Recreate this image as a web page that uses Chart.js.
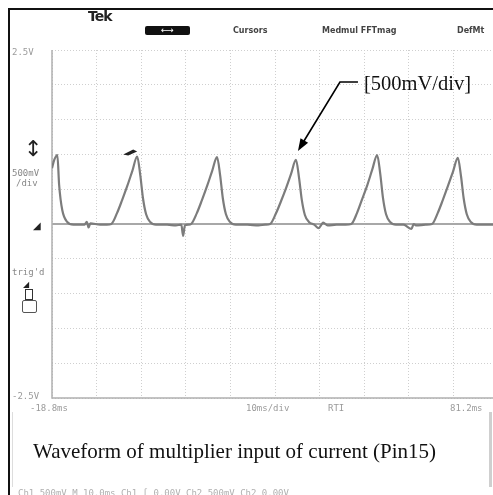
<!DOCTYPE html>
<html>
<head>
<meta charset="utf-8">
<script src="https://cdn.jsdelivr.net/npm/chart.js@4.4.0/dist/chart.umd.min.js"></script>
<style>
    body { margin: 0; width: 493px; height: 495px; overflow: hidden; background: #fff; position: relative; }
    #scope { position: absolute; left: 0; top: 0; }
    .frame-top { position: absolute; left: 8px; top: 8px; width: 485px; height: 2px; background: #111; }
    .frame-left { position: absolute; left: 8px; top: 8px; width: 2px; height: 487px; background: #111; }
    .lbl { position: absolute; font-family: "DejaVu Sans Mono", monospace; font-size: 9px; color: #9a9a9a; filter: blur(0.35px); white-space: nowrap; }
    .menu { position: absolute; font-family: "DejaVu Sans", sans-serif; font-weight: bold; font-size: 8px; color: #444; filter: blur(0.45px); white-space: nowrap; }
    .tek { position: absolute; left: 88px; top: 8px; font-family: "DejaVu Sans", sans-serif; font-weight: bold; font-size: 14px; color: #222; filter: blur(0.4px); letter-spacing: -1px; }
    .pill { position: absolute; left: 145px; top: 26px; width: 45px; height: 9px; background: #111; border-radius: 2px; color: #fff; font-size: 9px; line-height: 9px; text-align: center; font-family: "DejaVu Sans", sans-serif; }
    .caption { position: absolute; left: 12px; top: 412px; width: 476px; height: 75px; background: #fff; border-left: 1px solid #ddd; border-right: 3px solid #cfcfcf; }
    .caption span { position: absolute; left: 20px; top: 27px; font-family: "Liberation Serif", "Times New Roman", serif; font-size: 21px; color: #111; white-space: nowrap; }
    .dark { position: absolute; color: #222; font-family: "DejaVu Sans", sans-serif; filter: blur(0.3px); }
</style>
</head>
<body>
<canvas id="scope" width="510" height="495"></canvas>

<div class="frame-top"></div>
<div class="frame-left"></div>

<div class="tek">Tek</div>
<div class="pill">&#x27F7;</div>
<div class="menu" style="left:233px; top:26px;">Cursors</div>
<div class="menu" style="left:322px; top:26px;">Medmul FFTmag</div>
<div class="menu" style="left:457px; top:26px;">DefMt</div>

<div class="lbl" style="left:12px; top:47px;">2.5V</div>
<div class="dark" style="left:24px; top:134px; font-size:22px; line-height:30px;">&#x2195;</div>
<div class="lbl" style="left:12px; top:168px; color:#888;">500mV</div>
<div class="lbl" style="left:16px; top:178px; color:#888;">/div</div>
<div class="dark" style="left:33px; top:220px; font-size:10px;">&#x25E2;</div>
<div class="lbl" style="left:12px; top:267px; color:#888;">trig'd</div>
<div class="dark" style="left:23px; top:280px; font-size:8px;">&#x25E2;</div>
<div class="dark" style="left:25px; top:289px; width:6px; height:9px; border:1px solid #333;"></div>
<div class="dark" style="left:22px; top:300px; width:13px; height:11px; border:1px solid #555; border-radius:2px;"></div>
<div class="lbl" style="left:12px; top:391px;">-2.5V</div>
<div class="lbl" style="left:30px; top:403px;">-18.8ms</div>
<div class="lbl" style="left:246px; top:403px;">10ms/div</div>
<div class="lbl" style="left:328px; top:403px;">RTI</div>
<div class="lbl" style="left:450px; top:403px;">81.2ms</div>
<div class="lbl" style="left:18px; top:488px; color:#b0b0b0;">Ch1  500mV    M 10.0ms      Ch1 &#x222B;  0.00V    Ch2 500mV   Ch2 0.00V</div>

<div class="caption"><span>Waveform of multiplier input of current (Pin15)</span></div>

<script>
// time (ms) and voltage (V)
const times = [
    -18.8, -18.3, -17.6, -17.2, -16.5, -15.4, -14.0,
    -11.5, -11.0, -10.6, -10.2, -8.0, -6.5,
    -5.5, -4.2, -3.1, -1.9, -0.8, 0.3, 1.0, 1.6, 2.3, 3.2, 4.5,
    7.0, 9.0, 10.2, 10.6, 11.0, 11.8,
    12.4, 13.7, 14.8, 16.0, 17.1, 18.2, 18.9, 19.5, 20.2, 21.1, 22.4,
    25.0, 27.5, 29.0,
    30.1, 31.4, 32.5, 33.7, 34.8, 35.9, 36.6, 37.2, 37.9, 38.8, 40.0,
    41.0, 41.5, 42.0, 43.0, 45.0, 47.0,
    48.3, 49.6, 50.7, 51.9, 53.0, 54.1, 54.8, 55.4, 56.1, 57.0, 58.3,
    60.0, 61.8, 62.3, 62.8, 65.0,
    66.4, 67.7, 68.8, 70.0, 71.1, 72.2, 72.9, 73.5, 74.2, 75.1, 76.4,
    78.0, 81.2
];
const volts = [
    0.80, 0.92, 0.99, 0.56, 0.20, 0.03, -0.01,
    -0.01, 0.03, -0.05, 0.01, -0.01, -0.01,
    0.00, 0.16, 0.34, 0.55, 0.76, 0.97, 0.70, 0.37, 0.14, 0.03, -0.01,
    -0.01, -0.02, -0.01, -0.17, -0.02, -0.01,
    0.00, 0.16, 0.34, 0.55, 0.76, 0.96, 0.70, 0.37, 0.14, 0.03, -0.01,
    -0.01, -0.02, -0.01,
    0.00, 0.15, 0.32, 0.52, 0.72, 0.92, 0.66, 0.35, 0.13, 0.03, -0.01,
    -0.06, -0.02, 0.02, -0.02, -0.01, -0.01,
    0.00, 0.16, 0.35, 0.56, 0.78, 0.99, 0.72, 0.38, 0.14, 0.03, -0.01,
    -0.01, -0.07, 0.00, -0.02, -0.01,
    0.00, 0.16, 0.34, 0.55, 0.75, 0.95, 0.69, 0.37, 0.14, 0.03, -0.01,
    -0.01, -0.01
];
// scope graticule: 10 ms/div and 500 mV/div
const xTicks = [-18.8, -8.8, 1.2, 11.2, 21.2, 31.2, 41.2, 51.2, 61.2, 71.2, 81.2];
const yTicks = [-2.5, -2.0, -1.5, -1.0, -0.5, 0, 0.5, 1.0, 1.5, 2.0, 2.5];
const noteText = '[500mV/div]';

const extras = {
    id: 'extras',
    beforeDatasetsDraw(chart) {
        const { ctx, chartArea: a, scales: { x, y } } = chart;
        ctx.save();
        // solid zero line and left edge of graticule
        ctx.strokeStyle = '#a8a8a8';
        ctx.lineWidth = 2;
        ctx.beginPath();
        ctx.moveTo(a.left, y.getPixelForValue(0));
        ctx.lineTo(a.right, y.getPixelForValue(0));
        ctx.stroke();
        ctx.lineWidth = 1.5;
        ctx.strokeStyle = '#b0b0b0';
        ctx.beginPath();
        ctx.moveTo(a.left, a.top);
        ctx.lineTo(a.left, a.bottom);
        ctx.lineTo(a.right, a.bottom);
        ctx.stroke();
        ctx.restore();
    },
    afterDatasetsDraw(chart) {
        const { ctx, scales: { x, y } } = chart;
        ctx.save();
        // trigger marker above the first full pulse
        const tx = x.getPixelForValue(0.3), ty = y.getPixelForValue(0.97);
        ctx.fillStyle = '#222';
        ctx.beginPath();
        ctx.moveTo(tx - 14, ty - 2);
        ctx.lineTo(tx - 4, ty - 7);
        ctx.lineTo(tx, ty - 5);
        ctx.lineTo(tx - 9, ty - 1);
        ctx.closePath();
        ctx.fill();

        // annotation arrow pointing at the third pulse
        const px = x.getPixelForValue(35.9) + 2, py = y.getPixelForValue(0.92) - 9;
        const kx = px + 42, ky = py - 69;
        ctx.strokeStyle = '#000';
        ctx.lineWidth = 1.6;
        ctx.beginPath();
        ctx.moveTo(kx + 18, ky);
        ctx.lineTo(kx, ky);
        ctx.lineTo(px + 6, py - 10);
        ctx.stroke();
        const ang = Math.atan2(py - ky, px - kx);
        ctx.fillStyle = '#000';
        ctx.beginPath();
        ctx.moveTo(px, py);
        ctx.lineTo(px - 13 * Math.cos(ang - 0.35), py - 13 * Math.sin(ang - 0.35));
        ctx.lineTo(px - 13 * Math.cos(ang + 0.35), py - 13 * Math.sin(ang + 0.35));
        ctx.closePath();
        ctx.fill();
        ctx.font = '20.5px "Liberation Serif", "Times New Roman", serif';
        ctx.textBaseline = 'middle';
        ctx.fillStyle = '#111';
        ctx.fillText(noteText, kx + 24, ky + 3);
        ctx.restore();
    }
};

const chart = new Chart(document.getElementById('scope').getContext('2d'), {
    type: 'line',
    data: {
        datasets: [{
            data: times.map((t, i) => ({ x: t, y: volts[i] })),
            borderColor: '#7c7c7c',
            borderWidth: 2.2,
            pointRadius: 0,
            cubicInterpolationMode: 'monotone',
            fill: false
        }]
    },
    options: {
        responsive: false,
        animation: false,
        layout: { padding: { left: 52, right: 12, top: 50, bottom: 97 } },
        plugins: { legend: { display: false }, tooltip: { enabled: false } },
        scales: {
            x: {
                type: 'linear',
                min: -18.8,
                max: 81.2,
                afterBuildTicks: (s) => { s.ticks = xTicks.map(v => ({ value: v })); },
                ticks: { display: false },
                grid: { color: '#cfcfcf', lineWidth: 1, drawTicks: false },
                border: { display: false, dash: [1, 2] }
            },
            y: {
                type: 'linear',
                min: -2.5,
                max: 2.5,
                afterBuildTicks: (s) => { s.ticks = yTicks.map(v => ({ value: v })); },
                ticks: { display: false },
                grid: { color: '#cfcfcf', lineWidth: 1, drawTicks: false },
                border: { display: false, dash: [1, 2] }
            }
        }
    },
    plugins: [extras]
});
</script>
</body>
</html>
